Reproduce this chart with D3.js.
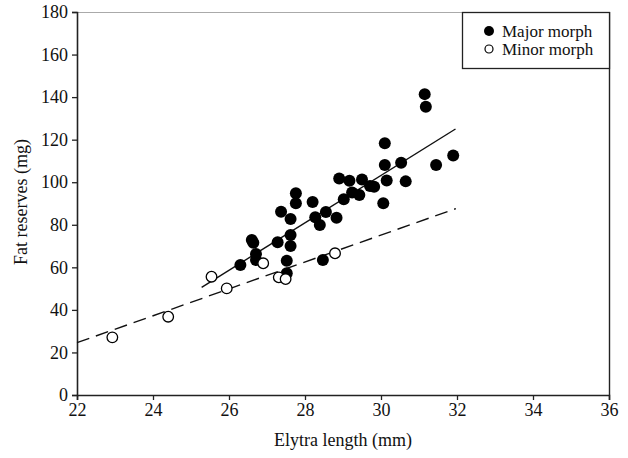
<!DOCTYPE html>
<html><head><meta charset="utf-8">
<script src="https://cdn.jsdelivr.net/npm/d3@7/dist/d3.min.js"></script>
<style>body{margin:0;background:#fff}svg{display:block}</style>
</head><body>
<script>
const xTicks = [22,24,26,28,30,32,34,36];
const yTicks = [0,20,40,60,80,100,120,140,160,180];
const majorX = [31.15,31.18,30.1,30.1,30.53,31.45,31.9,28.9,29.17,29.5,29.71,29.82,30.15,30.65,29.02,29.24,29.43,30.06,27.76,27.76,28.2,27.37,27.62,28.27,28.55,28.83,28.39,26.6,26.64,27.28,27.62,27.62,26.3,26.71,26.71,27.52,27.52,28.47];
const majorY = [141.4,135.5,118.3,108.1,109.2,108.1,112.6,101.7,100.7,101.3,98.2,97.9,100.8,100.4,92,95.2,94,90.1,94.8,90.1,90.7,86.1,82.7,83.5,86,83.3,79.9,72.8,71.6,71.8,75.2,70,61.1,66.3,63.4,63.1,57.2,63.4];
const minorX = [22.93,24.4,25.54,25.94,26.9,27.31,27.49,28.79];
const minorY = [27.1,36.8,55.6,50.1,61.9,55.3,54.5,66.6];
const majorFitX = [25.28,31.96];
const majorFitY = [50.6,125];
const minorFitX = [22,31.97];
const minorFitY = [24.6,87.6];
const legendLabels = ["Major morph","Minor morph"];

const W=628,H=458;
const svg=d3.select("body").append("svg").attr("width",W).attr("height",H)
  .style("font-family","'Liberation Serif','Times New Roman',serif");
const x=d3.scaleLinear().domain([22,36]).range([77,609]);
const y=d3.scaleLinear().domain([0,180]).range([395,12]);

// frame
svg.append("line").attr("x1",77).attr("x2",609).attr("y1",12.5).attr("y2",12.5).attr("stroke","#aaa").attr("stroke-width",1.2);
svg.append("line").attr("x1",609.5).attr("x2",609.5).attr("y1",12).attr("y2",395).attr("stroke","#222").attr("stroke-width",1.4);

const xa=svg.append("g").attr("transform","translate(0,395)")
  .call(d3.axisBottom(x).tickValues(xTicks).tickSize(5).tickPadding(3).tickFormat(d3.format("d")));
const ya=svg.append("g").attr("transform","translate(77,0)")
  .call(d3.axisLeft(y).tickValues(yTicks).tickSize(5).tickPadding(4).tickFormat(d3.format("d")));
[xa,ya].forEach(g=>{
  g.select(".domain").attr("stroke","#222").attr("stroke-width",1.6);
  g.selectAll(".tick line").attr("stroke","#222").attr("stroke-width",1.3);
  g.selectAll("text").attr("fill","#111").style("font-size","18px").style("font-family","'Liberation Serif',serif");
});

svg.append("text").attr("x",343).attr("y",446).attr("text-anchor","middle").style("font-size","18px").attr("fill","#111").text("Elytra length (mm)");
svg.append("text").attr("transform","translate(27,202) rotate(-90)").attr("text-anchor","middle").style("font-size","18px").attr("fill","#111").text("Fat reserves (mg)");

const line=d3.line().x(d=>x(d[0])).y(d=>y(d[1]));
svg.append("path").datum(d3.zip(majorFitX,majorFitY)).attr("d",line).attr("stroke","#111").attr("stroke-width",1.4).attr("fill","none");
svg.append("path").datum(d3.zip(minorFitX,minorFitY)).attr("d",line).attr("stroke","#111").attr("stroke-width",1.4).attr("fill","none").attr("stroke-dasharray","13,7");

svg.append("g").selectAll("circle").data(d3.zip(majorX,majorY)).join("circle")
  .attr("cx",d=>x(d[0])).attr("cy",d=>y(d[1])).attr("r",6).attr("fill","#000");
svg.append("g").selectAll("circle").data(d3.zip(minorX,minorY)).join("circle")
  .attr("cx",d=>x(d[0])).attr("cy",d=>y(d[1])).attr("r",5.3).attr("fill","#fff").attr("stroke","#000").attr("stroke-width",1.3);

// legend
const lg=svg.append("g");
lg.append("rect").attr("x",462.5).attr("y",12.5).attr("width",147).attr("height",56).attr("fill","#fff").attr("stroke","#222").attr("stroke-width",1.3);
lg.append("circle").attr("cx",489).attr("cy",31).attr("r",5).attr("fill","#000");
lg.append("circle").attr("cx",489).attr("cy",49).attr("r",4).attr("fill","#fff").attr("stroke","#000").attr("stroke-width",1.2);
legendLabels.forEach((t,i)=>lg.append("text").attr("x",502).attr("y",37+i*18).style("font-size","17px").attr("fill","#111").text(t));
</script>
</body></html>
